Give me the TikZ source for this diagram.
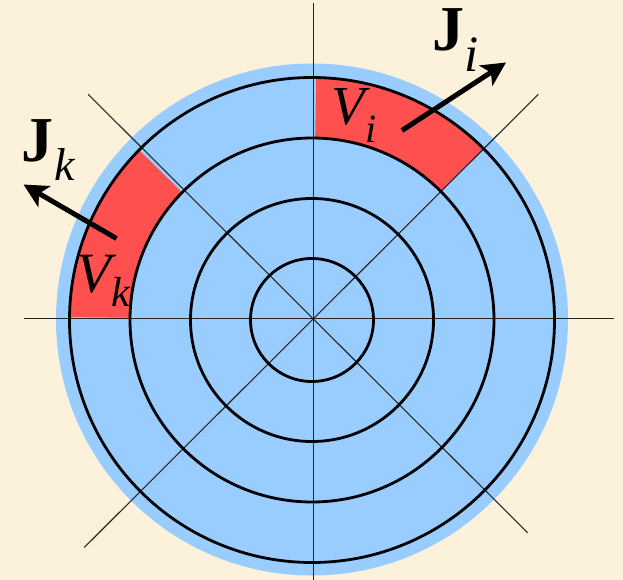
\documentclass[tikz,border=0pt]{standalone}
\usepackage{fontspec}
\setmainfont{Liberation Serif}
\usetikzlibrary{arrows.meta}
\definecolor{bgc}{HTML}{FCF2DC}
\definecolor{bluec}{HTML}{99CCFF}
\definecolor{redc}{HTML}{FF5050}
\tikzset{
  ring/.style={draw=black, line width=2.8pt},
  axis/.style={draw=black!85, line width=1.1pt},
  vec/.style={line width=5pt, -{Stealth[length=24pt,width=24pt,inset=6pt]}},
  lbl/.style={anchor=base west, inner sep=0pt, outer sep=0pt},
}
\newcommand{\symsub}[6]{{\fontsize{#1}{#1}\selectfont #2}\kern#4pt\raisebox{#5pt}{\fontsize{#6}{#6}\selectfont\itshape #3}}
\begin{document}
\begin{tikzpicture}[x=1pt,y=-1pt]
\useasboundingbox (0,0) rectangle (623,580);
\fill[bgc] (0,0) rectangle (623,580);
\coordinate (O) at (312,320);
% blue disk
\fill[bluec] (312,319.5) circle[radius=256];
% red sectors
\fill[redc, shift={(O)}] (-89:242) arc[start angle=-89, end angle=-45, radius=242]
  -- (-45:182) arc[start angle=-45, end angle=-89, radius=182] -- cycle;
\fill[redc, shift={(O)}] (-135.5:242) arc[start angle=-135.5, end angle=-179.3, radius=242]
  -- (-179.3:182) arc[start angle=-179.3, end angle=-135.5, radius=182] -- cycle;
% axes
\draw[axis] (313.5,3) -- (313.5,580);
\draw[axis] (24,318.5) -- (614,318.5);
\draw[axis] (88.2,94.3) -- (527.6,532.7);
\draw[axis] (538.3,94.3) -- (84.2,547.5);
% rings
\draw[ring] (O) circle[radius=242.5];
\draw[ring] (O) circle[radius=182];
\draw[ring] (O) circle[radius=121.5];
\draw[ring] (O) circle[radius=61.5];
% arrows
\coordinate (Ji0) at (402,130.5);
\coordinate (Ji1) at (506,62.5);
\coordinate (Jk0) at (116.5,238.5);
\coordinate (Jk1) at (23.5,184.5);
\draw[vec] (Ji0) -- (Ji1);
\draw[vec] (Jk0) -- (Jk1);
% labels
\node[lbl] (vi) at (331,125) {\symsub{55}{\itshape V}{i}{0.5}{-18}{40}};
\node[lbl] (ji) at (432,50.5) {\symsub{64}{\bfseries J}{i}{0.5}{-20.8}{51}};
\node[lbl] (jk) at (21,161) {\symsub{64}{\bfseries J}{k}{1}{-20}{46}};
\node[lbl] (vk) at (76.5,292.5) {\symsub{57}{\itshape V}{k}{0.5}{-14}{42}};
\end{tikzpicture}
\end{document}
